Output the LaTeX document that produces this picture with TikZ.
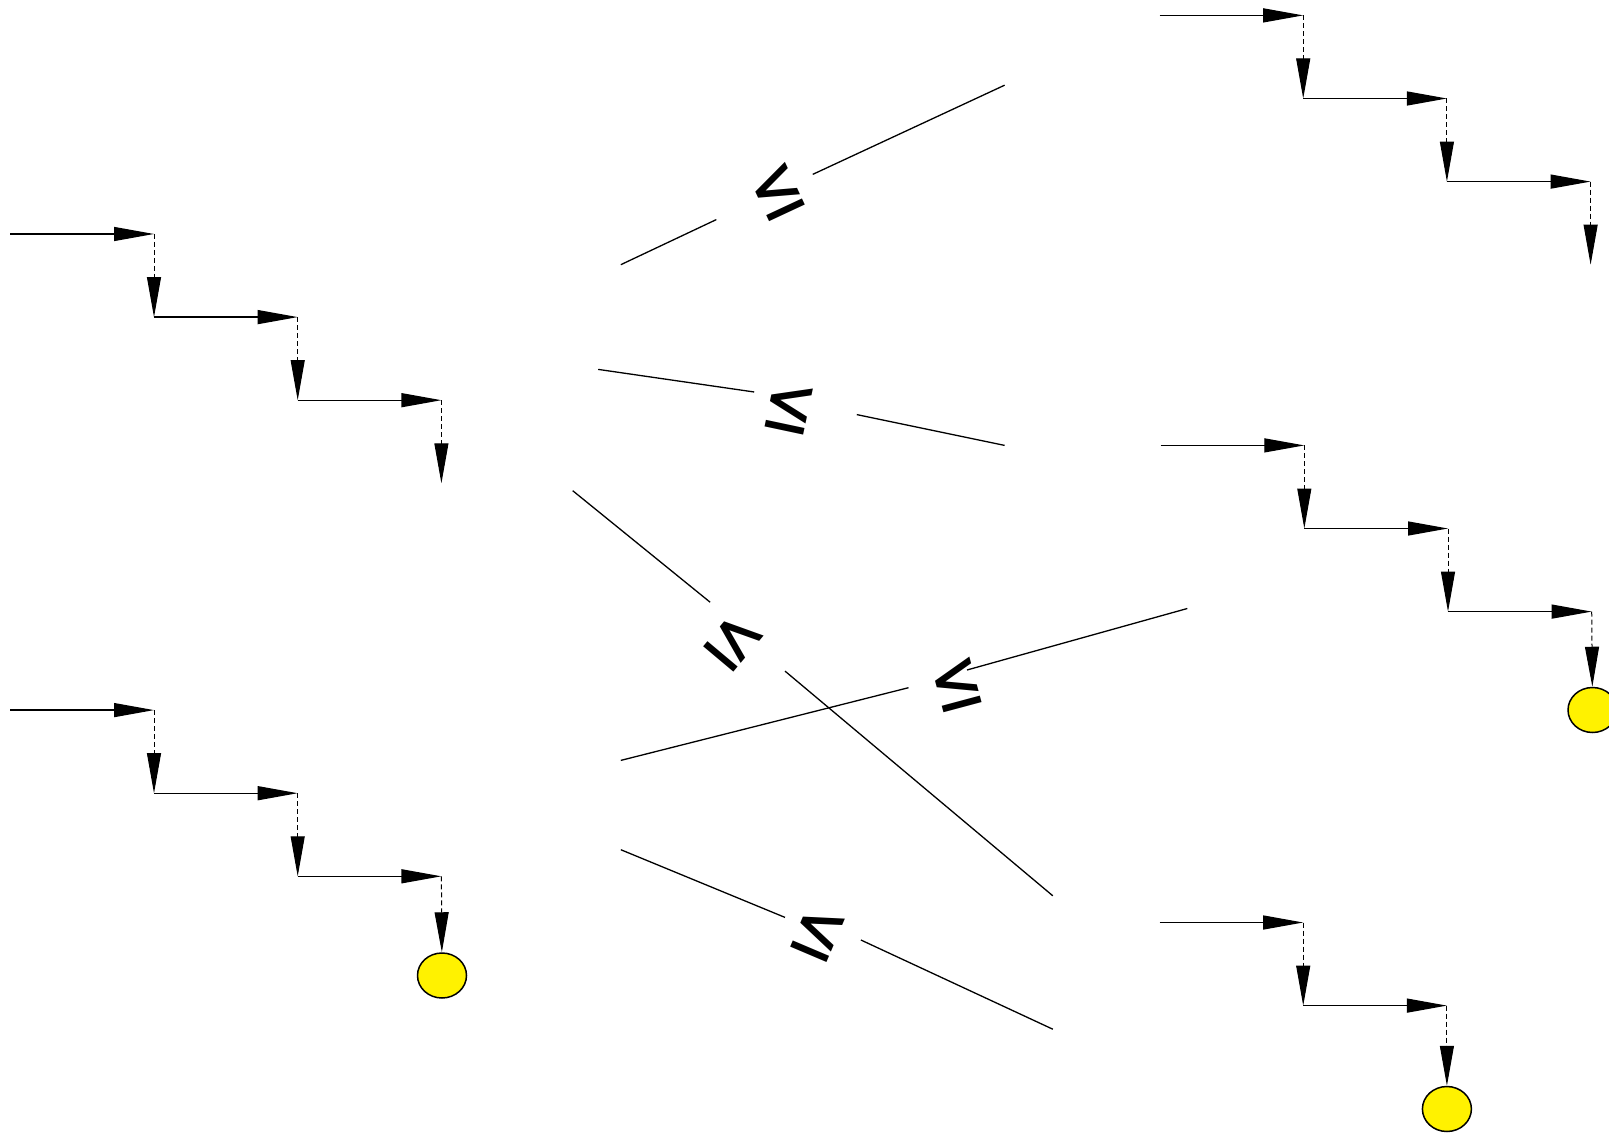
\documentclass[tikz,border=0pt]{standalone}
\usepackage{fontspec}
\newfontfamily\relfont{DejaVu Sans}
\usetikzlibrary{arrows.meta,shapes.geometric}

%% staircase: name, start x, start y (downwards), number of steps
\newcommand{\stairs}[4]{%
  \coordinate (#1-0-b) at (#2,{-#3});
  \foreach \k in {1,...,#4}{
    \pgfmathtruncatemacro{\p}{\k-1}
    \coordinate (#1-\k-t) at ({#2+\k*143.7},{-(#3+\p*83.1)});
    \coordinate (#1-\k-b) at ({#2+\k*143.7},{-(#3+\k*83.1)});
    \draw[flow] (#1-\p-b) -- (#1-\k-t);
    \ifnum\k<#4 \draw[hop] (#1-\k-t) -- (#1-\k-b);\fi
  }%
}

\begin{document}
\begin{tikzpicture}[x=0.5pt,y=0.5pt,
  flow/.style={line width=0.65pt,-{Triangle[length=20pt,width=7pt]}},
  hop/.style={flow,line width=0.5pt,dash pattern=on 2.5pt off 1.5pt},
  goal/.style={draw,ellipse,fill=yellow,line width=0.75pt,inner sep=0pt,
               minimum width=24.5pt,minimum height=22.5pt},
  rel/.style={line width=0.65pt},
  leq/.style={inner sep=0pt,xscale=1.05,yscale=1.35,
              font=\relfont\fontsize{30}{30}\selectfont}]
  \useasboundingbox (0,0) rectangle (1609,-1133);

  %% Left staircases
  \stairs{L1}{10.3}{234.0}{3}
  \draw[hop] (L1-3-t) -- (L1-3-b);
  \stairs{L2}{10.3}{710.1}{3}
  \node[goal] (L2-goal) at (442.0,-975.5) {};
  \draw[hop] (L2-3-t) -- (L2-goal);

  %% Right staircases
  \stairs{R1}{1159.5}{15.4}{3}
  \draw[hop] (R1-3-t) -- (R1-3-b);
  \stairs{R2}{1160.6}{445.4}{3}
  \node[goal] (R2-goal) at (1592.5,-710.0) {};
  \draw[hop] (R2-3-t) -- (R2-goal);
  \stairs{R3}{1159.5}{922.5}{2}
  \node[goal] (R3-goal) at (1446.9,-1109.0) {};
  \draw[hop] (R3-2-t) -- (R3-goal);

  %% Relation lines
  \coordinate (r1a) at (620.8,-264.7);  \coordinate (r1b) at (716.3,-219.6);
  \coordinate (r1c) at (812.7,-174.4);  \coordinate (r1d) at (1004.6,-85.2);
  \node[rotate=25,leq] (le1) at (777.5,-191.5) {≤};
  \draw[rel] (r1a) -- (r1b);
  \draw[rel] (r1c) -- (r1d);

  \coordinate (r2a) at (598.2,-369.4);  \coordinate (r2b) at (754.2,-392.0);
  \coordinate (r2c) at (856.8,-414.6);  \coordinate (r2d) at (1004.6,-445.4);
  \node[rotate=-12,leq] (le2) at (789.7,-408.3) {≤};
  \draw[rel] (r2a) -- (r2b);
  \draw[rel] (r2c) -- (r2d);

  \coordinate (r3a) at (572.7,-490.7);  \coordinate (r3b) at (710.1,-602.2);
  \coordinate (r3c) at (785.0,-671.1);  \coordinate (r3d) at (1052.8,-895.8);
  \node[rotate=-40,leq] (le3) at (733.8,-641.7) {≤};
  \draw[rel] (r3a) -- (r3b);
  \draw[rel] (r3c) -- (r3d);

  \coordinate (r4a) at (620.8,-760.4);  \coordinate (r4b) at (908.5,-687.7);
  \coordinate (r4c) at (967.0,-670.0);  \coordinate (r4d) at (1187.3,-608.5);
  \node[rotate=15,leq] (le4) at (956.7,-685.0) {≤};
  \draw[rel] (r4a) -- (r4b);
  \draw[rel] (r4c) -- (r4d);

  \coordinate (r5a) at (620.8,-849.7);  \coordinate (r5b) at (785.0,-917.4);
  \coordinate (r5c) at (860.9,-940.0);  \coordinate (r5d) at (1052.8,-1029.2);
  \node[rotate=-23,leq] (le5) at (818.3,-933.3) {≤};
  \draw[rel] (r5a) -- (r5b);
  \draw[rel] (r5c) -- (r5d);
\end{tikzpicture}
\end{document}
